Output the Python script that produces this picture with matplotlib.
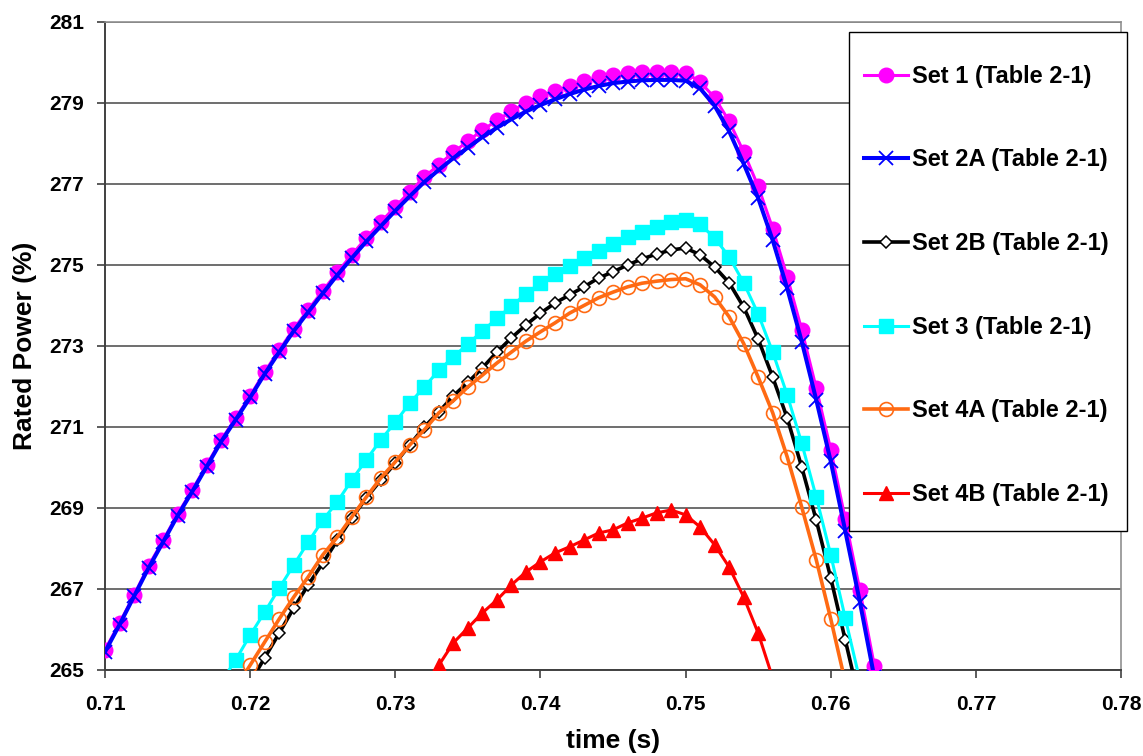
import numpy as np
import matplotlib
matplotlib.use("Agg")
import matplotlib.pyplot as plt
from matplotlib.patches import Rectangle

# time samples (s)
TIME = [0.710, 0.711, 0.712, 0.713, 0.714, 0.715, 0.716, 0.717, 0.718, 0.719,
        0.720, 0.721, 0.722, 0.723, 0.724, 0.725, 0.726, 0.727, 0.728, 0.729,
        0.730, 0.731, 0.732, 0.733, 0.734, 0.735, 0.736, 0.737, 0.738, 0.739,
        0.740, 0.741, 0.742, 0.743, 0.744, 0.745, 0.746, 0.747, 0.748, 0.749,
        0.750, 0.751, 0.752, 0.753, 0.754, 0.755, 0.756, 0.757, 0.758, 0.759,
        0.760, 0.761, 0.762, 0.763, 0.764]

nan = np.nan

# rated power (%) per data set, aligned with TIME
SET_1 = [265.50, 266.16, 266.85, 267.57, 268.20, 268.85, 269.44, 270.06, 270.68, 271.22,
         271.77, 272.36, 272.90, 273.42, 273.90, 274.36, 274.82, 275.25, 275.67, 276.06,
         276.44, 276.81, 277.17, 277.48, 277.78, 278.06, 278.33, 278.57, 278.80, 279.00,
         279.17, 279.30, 279.42, 279.54, 279.63, 279.70, 279.74, 279.76, 279.77, 279.77,
         279.75, 279.52, 279.13, 278.55, 277.79, 276.94, 275.90, 274.71, 273.40, 271.96,
         270.44, 268.72, 266.98, 265.11, 263.20]

SET_2A = [265.45, 266.12, 266.82, 267.52, 268.16, 268.81, 269.40, 270.02, 270.64, 271.18,
          271.73, 272.31, 272.85, 273.37, 273.84, 274.30, 274.75, 275.17, 275.58, 275.96,
          276.34, 276.70, 277.05, 277.35, 277.64, 277.90, 278.16, 278.39, 278.60, 278.79,
          278.95, 279.09, 279.22, 279.33, 279.42, 279.49, 279.53, 279.56, 279.57, 279.57,
          279.55, 279.36, 278.93, 278.30, 277.50, 276.65, 275.61, 274.42, 273.11, 271.67,
          270.15, 268.43, 266.69, 264.82, 262.90]

SET_2B = [nan, nan, nan, nan, nan, nan, nan, nan, nan, nan,
          264.70, 265.30, 265.91, 266.53, 267.10, 267.64, 268.20, 268.75, 269.25, 269.69,
          270.11, 270.56, 271.00, 271.37, 271.77, 272.10, 272.46, 272.85, 273.20, 273.52,
          273.81, 274.06, 274.26, 274.46, 274.68, 274.83, 275.00, 275.15, 275.27, 275.37,
          275.42, 275.25, 274.95, 274.56, 273.96, 273.17, 272.23, 271.22, 270.01, 268.70,
          267.27, 265.74, 264.20, nan, nan]

SET_3 = [nan, nan, nan, nan, nan, nan, nan, nan, 264.70, 265.25,
         265.86, 266.43, 267.02, 267.59, 268.16, 268.70, 269.15, 269.69, 270.19, 270.68,
         271.12, 271.59, 271.99, 272.40, 272.73, 273.05, 273.37, 273.68, 273.99, 274.28,
         274.56, 274.78, 274.98, 275.17, 275.35, 275.52, 275.69, 275.82, 275.95, 276.05,
         276.12, 276.00, 275.67, 275.20, 274.56, 273.79, 272.85, 271.79, 270.60, 269.27,
         267.84, 266.28, 264.75, nan, nan]

SET_4A = [nan, nan, nan, nan, nan, nan, nan, nan, nan, 264.55,
          265.12, 265.69, 266.26, 266.80, 267.30, 267.84, 268.28, 268.78, 269.27, 269.74,
          270.14, 270.56, 270.93, 271.35, 271.65, 271.99, 272.28, 272.58, 272.85, 273.12,
          273.35, 273.57, 273.81, 274.00, 274.19, 274.33, 274.46, 274.55, 274.60, 274.64,
          274.66, 274.51, 274.21, 273.72, 273.06, 272.23, 271.35, 270.26, 269.02, 267.72,
          266.26, 264.70, nan, nan, nan]

SET_4B = [nan, nan, nan, nan, nan, nan, nan, nan, nan, nan,
          nan, nan, nan, nan, nan, nan, nan, nan, nan, nan,
          nan, nan, 264.55, 265.12, 265.67, 266.04, 266.41, 266.73, 267.10, 267.42,
          267.67, 267.89, 268.04, 268.21, 268.38, 268.46, 268.63, 268.75, 268.88, 268.95,
          268.83, 268.53, 268.09, 267.54, 266.80, 265.91, 264.80, nan, nan, nan,
          nan, nan, nan, nan, nan]

LABELS = ["Set 1 (Table 2-1)", "Set 2A (Table 2-1)", "Set 2B (Table 2-1)",
          "Set 3 (Table 2-1)", "Set 4A (Table 2-1)", "Set 4B (Table 2-1)"]

X_TICKS = [0.71, 0.72, 0.73, 0.74, 0.75, 0.76, 0.77, 0.78]
Y_TICKS = [265, 267, 269, 271, 273, 275, 277, 279, 281]

plt.rcParams["font.family"] = ["Liberation Sans", "DejaVu Sans"]
plt.rcParams["font.weight"] = "bold"

fig = plt.figure(figsize=(11.43, 7.56), dpi=100)
ax = fig.add_axes([0.0919, 0.1138, 0.8889, 0.8571])

styles = [
    dict(color="#FF00FF", lw=2.2, marker="o", ms=10.5, mfc="#FF00FF", mec="#FF00FF"),
    dict(color="#0000FF", lw=2.9, marker="x", ms=9.5, mew=1.3, mec="#0000FF"),
    dict(color="black", lw=2.6, marker="D", ms=6.5, mfc="white", mec="black", mew=1.1),
    dict(color="#00FFFF", lw=2.2, marker="s", ms=10, mfc="#00FFFF", mec="#00FFFF"),
    dict(color="#FF6A13", lw=2.6, marker="o", ms=10, mfc="none", mec="#FF6A13", mew=1.2),
    dict(color="#FF0000", lw=2.2, marker="^", ms=10, mfc="#FF0000", mec="#FF0000"),
]
series = [SET_1, SET_2A, SET_2B, SET_3, SET_4A, SET_4B]

handles = []
for vals, lab, st in zip(series, LABELS, styles):
    h, = ax.plot(TIME, vals, label=lab, zorder=3, **st)
    handles.append(h)

ax.set_xlim(0.71, 0.78)
ax.set_ylim(265, 281)
ax.set_xticks(X_TICKS)
ax.set_xticklabels([f"{v:.2f}" for v in X_TICKS])
ax.set_yticks(Y_TICKS)
ax.tick_params(axis="both", direction="out", length=6, width=1.2,
               color="#404040", labelsize=15)
ax.tick_params(axis="x", pad=12)
ax.tick_params(axis="y", pad=9)
ax.yaxis.grid(True, color="#555555", lw=1.2)
ax.set_axisbelow(True)
for side in ["top", "right"]:
    ax.spines[side].set_color("#909090")
    ax.spines[side].set_linewidth(1.2)
for side in ["left", "bottom"]:
    ax.spines[side].set_color("#404040")
    ax.spines[side].set_linewidth(1.4)

ax.set_xlabel("time (s)", fontsize=19, fontweight="bold", labelpad=11)
ax.set_ylabel("Rated Power (%)", fontsize=19, fontweight="bold", labelpad=9)

# legend box sits over the right part of the plot area
ax.add_patch(Rectangle((0.732, 0.2145), 0.274, 0.770, transform=ax.transAxes,
                       facecolor="white", edgecolor="black", lw=1.0,
                       clip_on=False, zorder=5))
leg = ax.legend(handles=handles, loc="upper left", bbox_to_anchor=(0.747, 0.934),
                frameon=False, fontsize=17, borderpad=0, labelspacing=2.57,
                handlelength=1.85, handletextpad=0.2, borderaxespad=0)
leg.set_zorder(6)

fig.savefig("out.png", dpi=100)
